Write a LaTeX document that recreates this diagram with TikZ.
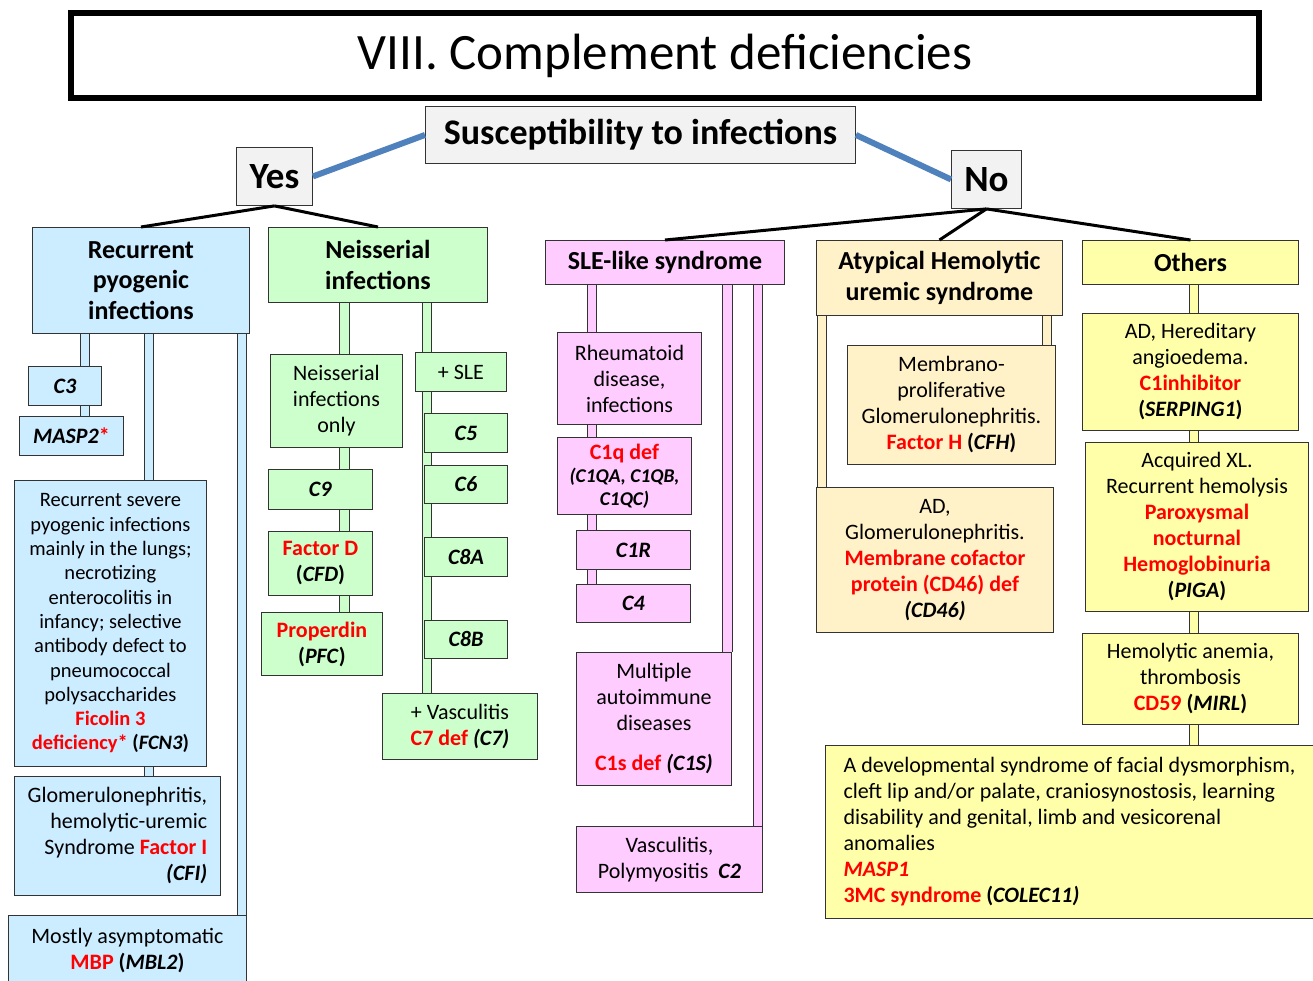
\documentclass[tikz,border=0pt]{standalone}
\usepackage{fontspec}
\setmainfont{Carlito}
\usetikzlibrary{backgrounds}
\definecolor{bluefill}{RGB}{204,236,255}
\definecolor{greenfill}{RGB}{204,255,204}
\definecolor{pinkfill}{RGB}{255,204,255}
\definecolor{peachfill}{RGB}{255,241,200}
\definecolor{yellowfill}{RGB}{255,255,170}
\definecolor{greyfill}{RGB}{242,242,242}
\definecolor{linkblue}{RGB}{79,129,189}
\newcommand{\rd}[1]{\textcolor{red}{\textbf{#1}}}
\newcommand{\gn}[1]{\textbf{\textit{#1}}}
\newcommand{\gp}[1]{\textbf{(\textit{#1})}}

\tikzset{
  box/.style={draw=black!80, line width=0.9pt, anchor=north west, inner sep=0pt,
    align=center, font=\fontsize{22}{26}\selectfont},
  hd/.style={font=\fontsize{26}{30.5}\selectfont\bfseries},
  big/.style={font=\fontsize{37}{40}\selectfont\bfseries},
  wh/.style 2 args={minimum width=#1, minimum height=#2},
  bluebox/.style={box, fill=bluefill},
  greenbox/.style={box, fill=greenfill},
  pinkbox/.style={box, fill=pinkfill},
  peachbox/.style={box, fill=peachfill},
  yellowbox/.style={box, fill=yellowfill},
  bar/.style={draw=black!80, line width=0.9pt, double distance=8.5pt},
  yeslink/.style={line width=6pt, linkblue},
  branch/.style={line width=3pt, black}
}

\begin{document}
\begin{tikzpicture}[x=1pt, y=-1pt]
  \useasboundingbox (0,0) rectangle (1313,980);

  \node[box, wh={1188}{85}, draw=black, line width=6pt, fill=white,
    font=\fontsize{51}{55}\selectfont] (title) at (68,10) {VIII. Complement deficiencies};
  \node[box, big, wh={430}{57}, fill=greyfill, font=\fontsize{36}{40}\selectfont\bfseries] (susc) at (425,106) {Susceptibility to infections};
  \node[box, big, wh={76}{58}, fill=greyfill] (yes) at (236,147) {Yes};
  \node[box, big, wh={70}{58}, fill=greyfill] (no) at (951,150) {No};

  % yes branch
  \node[bluebox, hd, wh={217}{106}] (rec) at (32,227) {Recurrent\\pyogenic\\infections};
  \node[bluebox, wh={73}{39}] (c3) at (28,366) {\gn{C3}};
  \node[bluebox, wh={104}{39}] (masp) at (19,416) {\gn{MASP2}\rd{*}};
  \node[bluebox, wh={192}{286}, font=\fontsize{20.5}{24.3}\selectfont] (sev) at (14,480) {Recurrent severe\\pyogenic infections\\mainly in the lungs;\\necrotizing\\enterocolitis in\\infancy; selective\\antibody defect to\\pneumococcal\\polysaccharides\\\rd{Ficolin 3}\\\rd{deficiency*} \gp{FCN3}};
  \node[bluebox, wh={206}{119}, align=right] (glo) at (14,776) {Glomerulonephritis,\\hemolytic-uremic\\Syndrome \rd{Factor I}\\\gn{(CFI)}};
  \node[bluebox, wh={238}{70}] (mbp) at (8,915) {Mostly asymptomatic\\\rd{MBP} \gp{MBL2}};

  \node[greenbox, hd, wh={219}{75}] (neis) at (268,227) {Neisserial\\infections};
  \node[greenbox, wh={132}{93}] (nonly) at (270,354) {Neisserial\\infections\\only};
  \node[greenbox, wh={104}{40}] (c9) at (268,469) {\gn{C9}};
  \node[greenbox, wh={104}{64}] (fd) at (268,531) {\rd{Factor D}\\\gp{CFD}};
  \node[greenbox, wh={121}{63}] (prop) at (261,612) {\rd{Properdin}\\\gp{PFC}};
  \node[greenbox, wh={91}{39}] (psle) at (415,352) {+ SLE};
  \node[greenbox, wh={83}{39}] (c5) at (424,413) {\gn{C5}};
  \node[greenbox, wh={83}{38}] (c6) at (424,465) {\gn{C6}};
  \node[greenbox, wh={83}{39}] (c8a) at (424,537) {\gn{C8A}};
  \node[greenbox, wh={83}{38}] (c8b) at (424,620) {\gn{C8B}};
  \node[greenbox, wh={155}{66}] (vasc) at (382,693) {+ Vasculitis\\\rd{C7 def} \gn{(C7)}};

  % no branch
  \node[pinkbox, hd, wh={239}{44}] (sle) at (545,240) {SLE-like syndrome};
  \node[pinkbox, wh={144}{92}] (rheu) at (557,332) {Rheumatoid\\disease,\\infections};
  \node[pinkbox, wh={134}{77}] (c1q) at (557,437) {\rd{C1q def}\\[-3pt]{\fontsize{19.5}{22}\selectfont\gn{(C1QA, C1QB,}}\\[-3pt]{\fontsize{19.5}{22}\selectfont\gn{C1QC)}}};
  \node[pinkbox, wh={114}{39}] (c1r) at (576,530) {\gn{C1R}};
  \node[pinkbox, wh={114}{38}] (c4) at (576,584) {\gn{C4}};
  \node[pinkbox, wh={155}{133}] (mult) at (576,652) {Multiple\\autoimmune\\diseases\\[14pt]\rd{C1s def} \gn{(C1S)}};
  \node[pinkbox, wh={186}{66}] (c2) at (576,826) {Vasculitis,\\Polymyositis~~\gn{C2}};

  \node[peachbox, hd, wh={246}{75}] (ahus) at (816,240) {Atypical Hemolytic\\uremic syndrome};
  \node[peachbox, wh={208}{119}] (fh) at (847,345) {Membrano-\\proliferative\\Glomerulonephritis.\\\rd{Factor H} \gp{CFH}};
  \node[peachbox, wh={237}{145}] (cd46) at (816,487) {AD,\\Glomerulonephritis.\\\rd{Membrane cofactor}\\\rd{protein (CD46) def}\\\gn{(CD46)}};

  \node[yellowbox, hd, wh={216}{44}] (oth) at (1082,240) {Others};
  \node[yellowbox, wh={216}{117}] (hae) at (1082,313) {AD, Hereditary\\angioedema.\\\rd{C1inhibitor}\\\gp{SERPING1}};
  \node[yellowbox, wh={223}{169}] (pnh) at (1085,442) {Acquired XL.\\Recurrent hemolysis\\\rd{Paroxysmal}\\\rd{nocturnal}\\\rd{Hemoglobinuria}\\\gp{PIGA}};
  \node[yellowbox, wh={216}{91}] (cd59) at (1082,633) {Hemolytic anemia,\\thrombosis\\\rd{CD59} \gp{MIRL}};
  \node[yellowbox, wh={488}{173}, align=left] (dev) at (825,745) {A developmental syndrome of facial dysmorphism,\\cleft lip and/or palate, craniosynostosis, learning\\disability and genital, limb and vesicorenal\\anomalies\\\textcolor{red}{\gn{MASP1}}\\\rd{3MC syndrome} \textbf{(}\gn{COLEC11)}};

  \draw[yeslink] (yes.east) -- (susc.west);
  \draw[yeslink] (susc.east) -- (no.west);
  \draw[branch] (yes.south) -- (rec.north);
  \draw[branch] (yes.south) -- (neis.north);
  \draw[branch] (no.south) -- (sle.north);
  \draw[branch] (no.south) -- (ahus.north);
  \draw[branch] (no.south) -- (oth.north);

  \coordinate (bA) at (85,0);
  \coordinate (bB) at (149,0);
  \coordinate (bC) at (242,0);
  \coordinate (gA) at (344.5,0);
  \coordinate (gB) at (427,0);
  \coordinate (pA) at (592,0);
  \coordinate (pB) at (727.5,0);
  \coordinate (pC) at (758,0);
  \coordinate (oA) at (822,0);
  \coordinate (oB) at (1047,0);
  \coordinate (yA) at (1194,0);

  \begin{scope}[on background layer]
    \draw[bar, double=bluefill] (rec.south -| bA) -- (masp.north -| bA);
    \draw[bar, double=bluefill] (rec.south -| bB) -- (glo.north -| bB);
    \draw[bar, double=bluefill] (rec.south -| bC) -- (mbp.north -| bC);
    \draw[bar, double=greenfill] (neis.south -| gA) -- (prop.north -| gA);
    \draw[bar, double=greenfill] (neis.south -| gB) -- (vasc.north -| gB);
    \draw[bar, double=pinkfill] (sle.south -| pA) -- (c4.north -| pA);
    \draw[bar, double=pinkfill] (sle.south -| pB) -- (mult.north -| pB);
    \draw[bar, double=pinkfill] (sle.south -| pC) -- (c2.north -| pC);
    \draw[bar, double=peachfill] (ahus.south -| oA) -- (cd46.north -| oA);
    \draw[bar, double=peachfill] (ahus.south -| oB) -- (fh.north -| oB);
    \draw[bar, double=yellowfill] (oth.south -| yA) -- (dev.north -| yA);
  \end{scope}
\end{tikzpicture}
\end{document}
